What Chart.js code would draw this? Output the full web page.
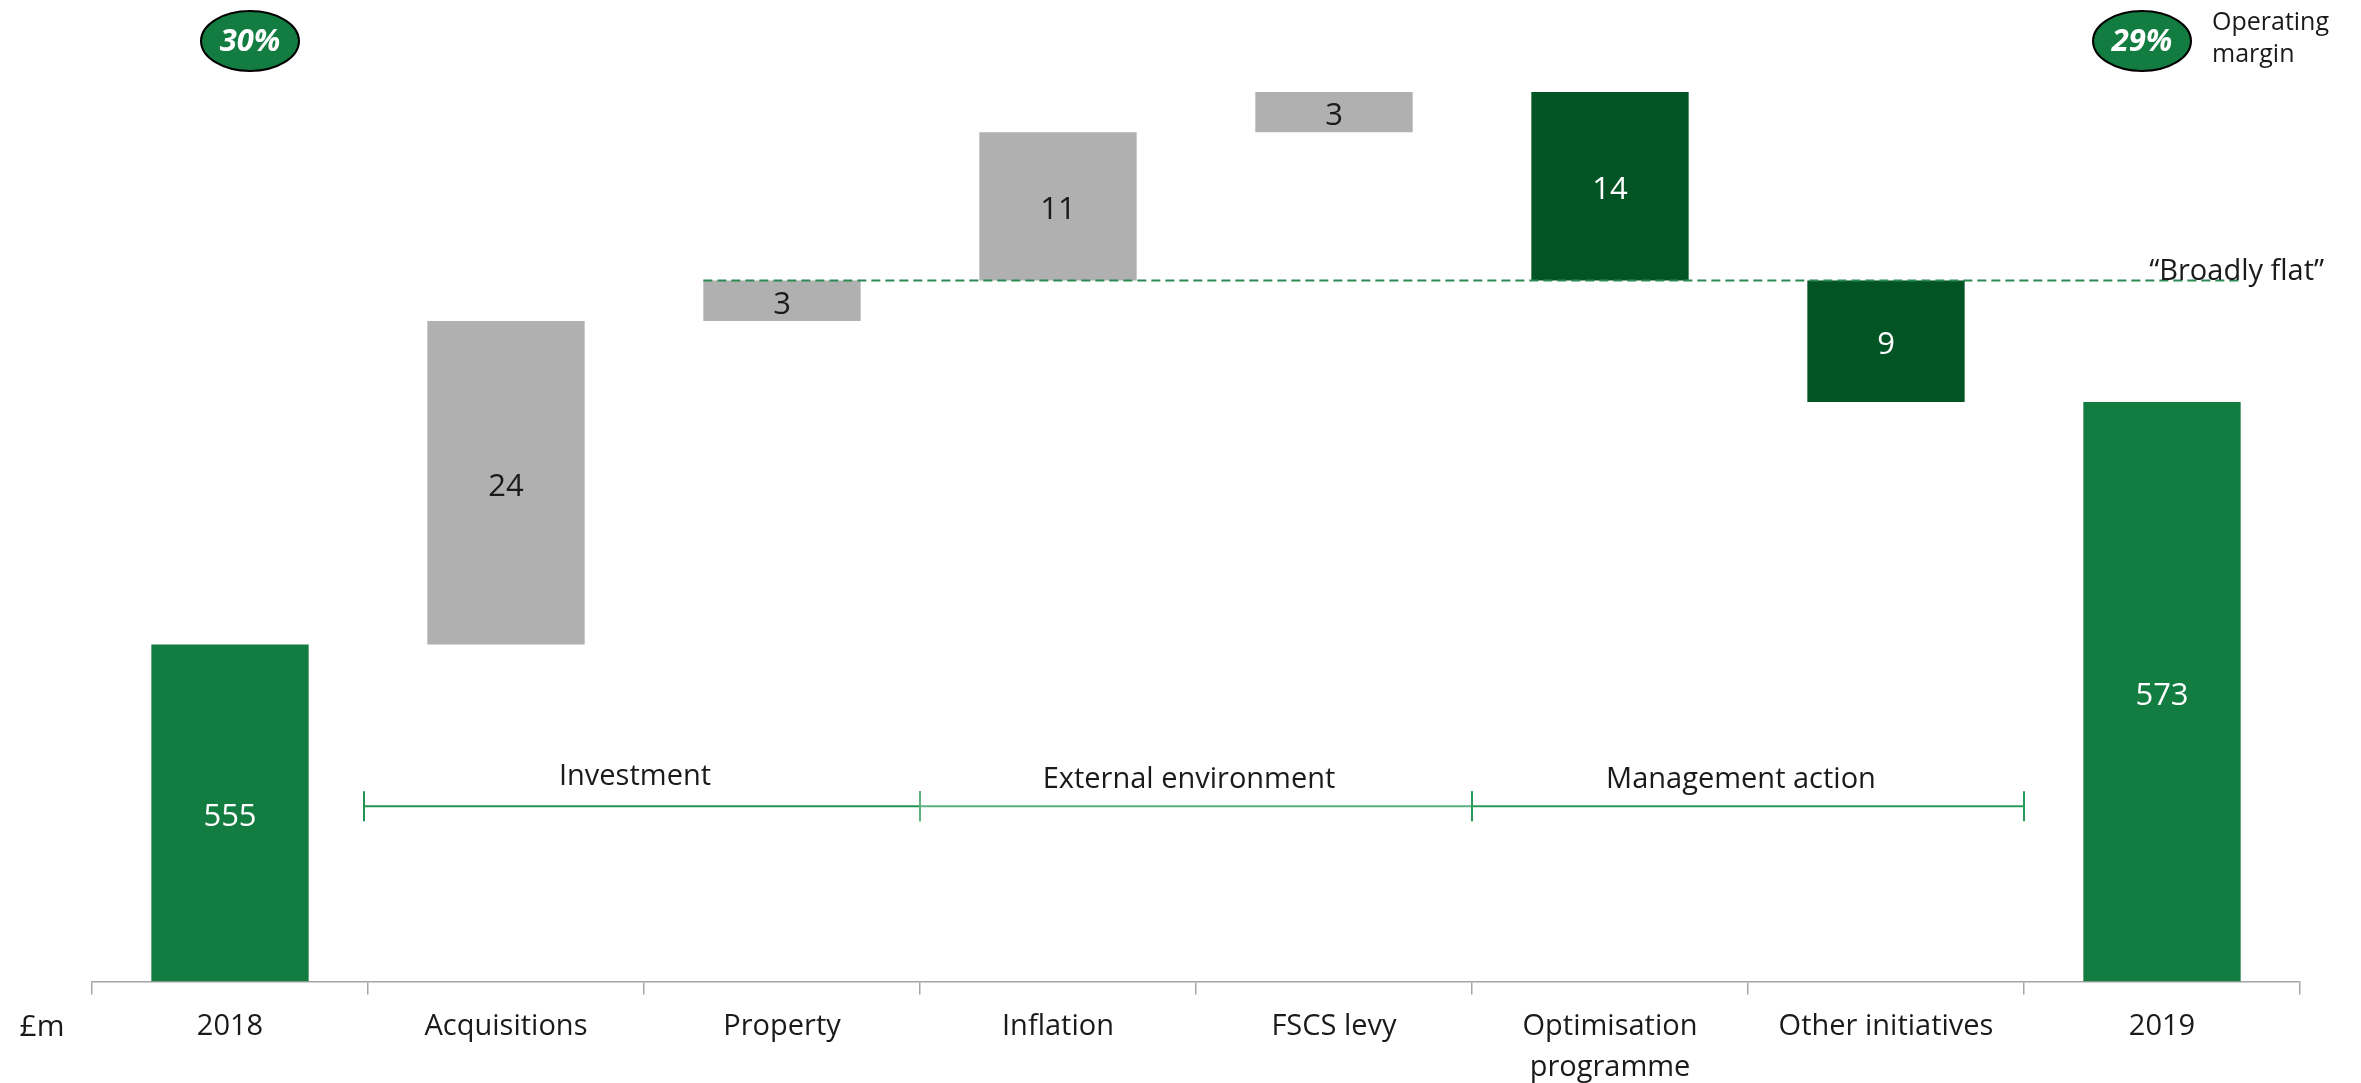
<!DOCTYPE html>
<html><head><meta charset="utf-8">
<script src="https://cdn.jsdelivr.net/npm/chart.js@4/dist/chart.umd.min.js"></script>
<style>html,body{margin:0;padding:0;background:#fff}#wrap{width:2361px;height:1083px;position:relative}</style>
</head><body><div id="wrap"><canvas id="c"></canvas></div>
<script>
// ---- data ----
const categories = ['2018', 'Acquisitions', 'Property', 'Inflation', 'FSCS levy', ['Optimisation', 'programme'], 'Other initiatives', '2019'];
const openingTotal = 555;
const changes = [24, 3, 11, 3, -14, -9];
const closingTotal = 573;
const barKinds = ['total', 'cost', 'cost', 'cost', 'cost', 'action', 'action', 'total'];
const operatingMargins = ['30%', '29%'];
const marginCaption = ['Operating', 'margin'];
const groupLabels = ['Investment', 'External environment', 'Management action'];
const groupFirst = [1, 3, 5];
const groupLast = [2, 4, 6];
const flatLabel = '\u201CBroadly flat\u201D';
const unitLabel = '\u00A3m';
const yMin = 530, yMax = 600;
const groupLineValue = 543;

// ---- build waterfall ----
const floating = [[yMin, openingTotal]];
const valueLabels = [openingTotal];
let level = openingTotal;
const levels = [];
changes.forEach(c => { floating.push([level, level + c]); valueLabels.push(Math.abs(c)); level += c; levels.push(level); });
floating.push([yMin, closingTotal]);
valueLabels.push(closingTotal);
const flatLevel = levels[1]; // level after Property

const kindColor = { total: '#127C41', cost: '#B0B0B0', action: '#025424' };
const groupColors = ['#1f9450', '#5fb080', '#2a9858'];

const FONT = '"Open Sans", "DejaVu Sans", sans-serif';

const annot = {
  id: 'annot',
  afterDatasetsDraw(chart) {
    const { ctx, chartArea: ca, scales: { x, y } } = chart;
    const meta = chart.getDatasetMeta(0);
    ctx.save();
    // flat dashed line
    const yf = y.getPixelForValue(flatLevel);
    const b2 = meta.data[2], b7 = meta.data[7];
    ctx.strokeStyle = '#2b8a52'; ctx.lineWidth = 2; ctx.setLineDash([9, 5]);
    ctx.beginPath(); ctx.moveTo(b2.x - b2.width / 2, yf); ctx.lineTo(b7.x + b7.width / 2, yf); ctx.stroke();
    ctx.setLineDash([]);
    ctx.fillStyle = '#1a1a1a'; ctx.font = '29px ' + FONT; ctx.textAlign = 'center'; ctx.textBaseline = 'middle';
    ctx.fillText(flatLabel, b7.x + b7.width / 2 - 4, yf - 9);

    // bar labels
    ctx.font = '31px ' + FONT;
    meta.data.forEach((b, i) => {
      ctx.fillStyle = barKinds[i] === 'cost' ? '#1a1a1a' : '#ffffff';
      ctx.fillText(String(valueLabels[i]), b.x, (b.y + b.base) / 2 + 4);
    });

    // group brackets
    const yl = y.getPixelForValue(groupLineValue);
    groupLabels.forEach((g, i) => {
      const x1 = (x.getPixelForValue(groupFirst[i]) + x.getPixelForValue(groupFirst[i] - 1)) / 2 - (i === 0 ? 4 : 0);
      const x2 = (x.getPixelForValue(groupLast[i]) + x.getPixelForValue(groupLast[i] + 1)) / 2;
      ctx.strokeStyle = groupColors[i]; ctx.lineWidth = 2;
      ctx.beginPath(); ctx.moveTo(x1, yl); ctx.lineTo(x2, yl);
      ctx.moveTo(x1, yl - 15); ctx.lineTo(x1, yl + 15);
      ctx.moveTo(x2, yl - 15); ctx.lineTo(x2, yl + 15);
      ctx.stroke();
      ctx.fillStyle = '#1a1a1a'; ctx.font = '29px ' + FONT;
      ctx.fillText(g, (x1 + x2) / 2 - 7, yl - 30 + (i > 0 ? 3 : 0));
    });

    // margin badges
    const badgeX = [meta.data[0].x + 20, meta.data[7].x - 20];
    const badgeY = ca.top + 3;
    operatingMargins.forEach((m, i) => {
      ctx.beginPath(); ctx.ellipse(badgeX[i], badgeY, 49, 30, 0, 0, Math.PI * 2);
      ctx.fillStyle = '#127C41'; ctx.fill();
      ctx.strokeStyle = '#000'; ctx.lineWidth = 2; ctx.stroke();
      ctx.fillStyle = '#fff'; ctx.font = 'italic bold 31px ' + FONT;
      ctx.fillText(m, badgeX[i], badgeY + 1);
    });
    ctx.fillStyle = '#1a1a1a'; ctx.font = '25px ' + FONT; ctx.textAlign = 'left';
    ctx.fillText(marginCaption[0], badgeX[1] + 70, ca.top - 15);
    ctx.fillText(marginCaption[1], badgeX[1] + 70, ca.top + 17);

    // unit label
    ctx.textAlign = 'center'; ctx.font = '30px ' + FONT;
    ctx.fillText(unitLabel, ca.left - 50, ca.bottom + 46);
    ctx.restore();
  }
};

new Chart(document.getElementById('c'), {
  type: 'bar',
  data: {
    labels: categories,
    datasets: [{
      data: floating,
      backgroundColor: barKinds.map(k => kindColor[k]),
      borderWidth: 0,
      barPercentage: 0.57,
      categoryPercentage: 1.0
    }]
  },
  options: {
    responsive: true,
    maintainAspectRatio: false,
    animation: false,
    layout: { padding: { top: 38, left: 92, right: 61, bottom: 0 } },
    plugins: { legend: { display: false }, tooltip: { enabled: false } },
    scales: {
      x: {
        grid: { offset: true, drawOnChartArea: false, drawTicks: true, tickLength: 13, color: '#a6a6a6', lineWidth: 1.5 },
        border: { color: '#a6a6a6', width: 1.5 },
        ticks: { color: '#1a1a1a', font: { family: FONT, size: 29, lineHeight: 1.4 }, padding: 12, maxRotation: 0, autoSkip: false },
        afterFit(s) { s.height = 101.5; }
      },
      y: { display: false, min: yMin, max: yMax }
    }
  },
  plugins: [annot]
});
</script>
</body></html>
